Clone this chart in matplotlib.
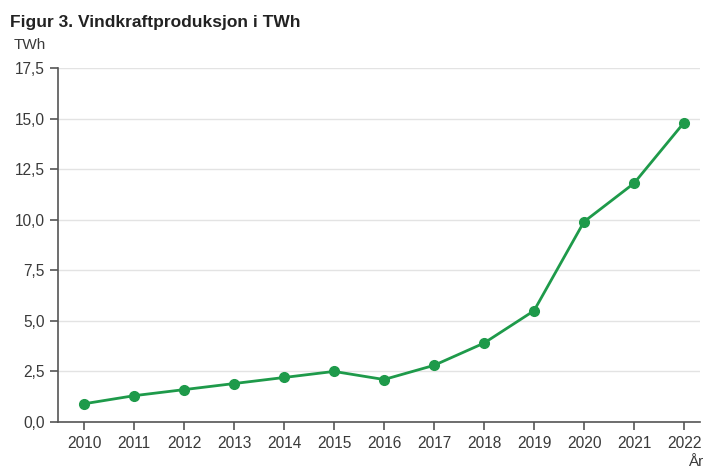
import matplotlib
matplotlib.use('Agg')
import matplotlib.pyplot as plt

years = [2010, 2011, 2012, 2013, 2014, 2015, 2016, 2017, 2018, 2019, 2020, 2021, 2022]
twh = [0.9, 1.3, 1.6, 1.9, 2.2, 2.5, 2.1, 2.8, 3.9, 5.5, 9.9, 11.8, 14.8]
yticks = [0, 2.5, 5, 7.5, 10, 12.5, 15, 17.5]
ytick_labels = ['0,0', '2,5', '5,0', '7,5', '10,0', '12,5', '15,0', '17,5']

plt.rcParams['font.family'] = ['Liberation Sans', 'DejaVu Sans']

fig = plt.figure(figsize=(7.04, 4.68), dpi=100)
ax = fig.add_axes([58 / 704, 46 / 468, 642 / 704, 354 / 468])

ax.plot(years, twh, color='#1e9a4a', lw=2, marker='o', ms=7, zorder=3)

ax.set_xlim(2009.48, 2022.32)
ax.set_ylim(0, 17.5)
ax.set_xticks(years)
ax.set_yticks(yticks)
ax.set_yticklabels(ytick_labels)
ax.tick_params(colors='#555555', labelcolor='#3a3a3a', labelsize=11.2, length=6, width=1.2)
ax.tick_params(axis='x', pad=4)

for s in ['top', 'right']:
    ax.spines[s].set_visible(False)
for s in ['left', 'bottom']:
    ax.spines[s].set_color('#555555')
    ax.spines[s].set_linewidth(1.2)

ax.grid(axis='y', color='#e3e3e3', lw=1)
ax.set_axisbelow(True)

fig.text(10 / 704, 1 - 22 / 468, 'Figur 3. Vindkraftproduksjon i TWh', fontsize=12.5,
         fontweight='bold', color='#222222', va='center', ha='left')
fig.text(14 / 704, 1 - 45 / 468, 'TWh', fontsize=11, color='#3a3a3a', va='center', ha='left')
fig.text(703 / 704, 1 - 462 / 468, 'År', fontsize=11, color='#3a3a3a', va='center', ha='right')

fig.savefig('out.png', dpi=100)
